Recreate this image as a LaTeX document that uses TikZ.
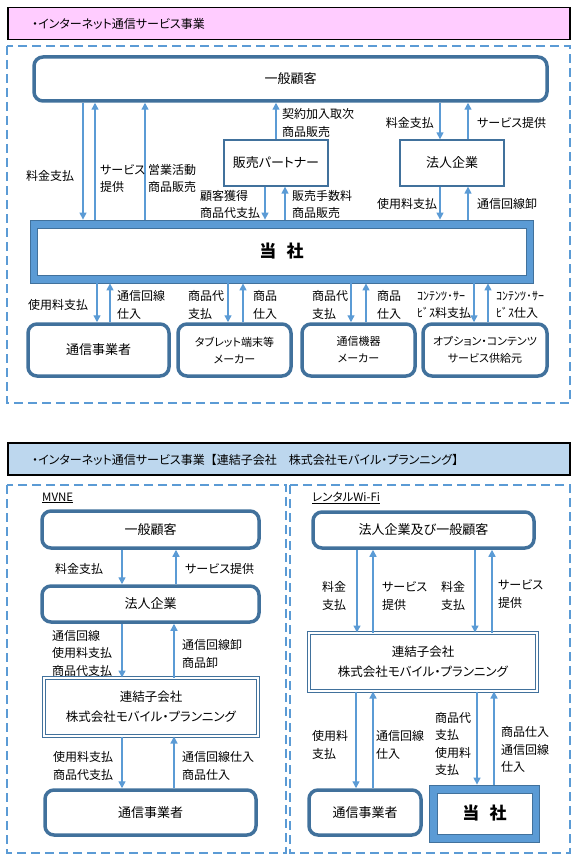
\documentclass[tikz,border=0pt]{standalone}
\usepackage{fontspec}
\setmainfont{Noto Sans CJK JP}[RawFeature={+palt}]
\newfontfamily\jpfull{Noto Sans CJK JP}
\usetikzlibrary{arrows.meta}
\definecolor{arrowblue}{HTML}{5B9BD5}
\definecolor{boxblue}{HTML}{41719C}
\definecolor{hdrpink}{HTML}{FFCCFF}
\definecolor{hdrblue}{HTML}{BDD7EE}
\tikzset{
  rbox/.style={draw=boxblue, line width=3.5pt, rounded corners=9pt, fill=white, inner sep=0pt, align=center, font=\fontsize{13}{18}\selectfont},
  sbox/.style={draw=boxblue, line width=1.3pt, fill=white, inner sep=0pt, align=center, font=\fontsize{13}{18}\selectfont},
  dbox/.style={draw=boxblue, double=white, double distance=2pt, line width=1pt, inner sep=0pt, align=center, font=\fontsize{12.5}{20}\selectfont},
  tsframe/.style={draw=boxblue, line width=0.8pt, fill=arrowblue, inner sep=0pt},
  tsinner/.style={draw=boxblue, line width=0.8pt, fill=white, inner sep=0pt, font=\bfseries\fontsize{17}{20}\selectfont},
  arr/.style={color=arrowblue, line width=1.4pt, -{Triangle[length=7pt,width=7pt]}},
  lbl/.style={inner sep=0pt, anchor=west, align=left, font=\fontsize{12}{17.5}\selectfont},
  hdr/.style={draw=black, line width=1.8pt, inner sep=0pt},
  hdrtext/.style={inner sep=0pt, anchor=west, font=\fontsize{12}{14}\selectfont},
  dashframe/.style={draw=arrowblue, line width=1.3pt, dash pattern=on 9pt off 5pt},
}
\begin{document}
\begin{tikzpicture}[x=1pt, y=-1pt]
\useasboundingbox (0,0) rectangle (578,861);

% ---------------- top section ----------------
\node[hdr, fill=hdrpink, minimum width=562, minimum height=32] (h1) at (289,23.5) {};
\node[hdrtext] (h1t) at (32,23.5) {・インターネット通信サービス事業};
\draw[dashframe] (7,46) rectangle (570,403);

\node[rbox, minimum width=513, minimum height=44] (gk) at (290.5,79) {一般顧客};
\node[sbox, minimum width=104, minimum height=46] (hp) at (276,163) {販売パートナー};
\node[sbox, minimum width=104, minimum height=46] (hj) at (452,163) {法人企業};
\node[tsframe, minimum width=503, minimum height=63] (ts) at (281.5,251.5) {};
\node[tsinner, minimum width=489, minimum height=47] (tsin) at (281.5,251.5) {当\hspace{0.6em}社};

\node[rbox, minimum width=141, minimum height=52] (b1) at (98.5,350) {通信事業者};
\node[rbox, minimum width=113, minimum height=52, font=\fontsize{11}{17}\selectfont] (b2) at (234.5,350) {タブレット端末等\\メーカー};
\node[rbox, minimum width=113, minimum height=52, font=\fontsize{11}{17}\selectfont] (b3) at (358.5,350) {通信機器\\メーカー};
\node[rbox, minimum width=124, minimum height=52, font=\fontsize{11}{17}\selectfont] (b4) at (485,350) {オプション・コンテンツ\\サービス供給元};

% arrows between 一般顧客 and 当社
\draw[arr] (gk.south -| 83,0) -- (ts.north -| 83,0);
\draw[arr] (ts.north -| 95,0) -- (gk.south -| 95,0);
\draw[arr] (ts.north -| 145,0) -- (gk.south -| 145,0);
\draw[arr] (hp.north) -- (gk.south -| hp.north);
\draw[arr] (hp.south -| 265,0) -- (ts.north -| 265,0);
\draw[arr] (ts.north -| 285,0) -- (hp.south -| 285,0);
\draw[arr] (gk.south -| 440,0) -- (hj.north -| 440,0);
\draw[arr] (hj.north -| 468,0) -- (gk.south -| 468,0);
\draw[arr] (hj.south -| 440,0) -- (ts.north -| 440,0);
\draw[arr] (ts.north -| 468,0) -- (hj.south -| 468,0);

% arrows below 当社
\draw[arr] (ts.south -| 97,0) -- (b1.north -| 97,0);
\draw[arr] (b1.north -| 110,0) -- (ts.south -| 110,0);
\draw[arr] (ts.south -| 228,0) -- (b2.north -| 228,0);
\draw[arr] (b2.north -| 243,0) -- (ts.south -| 243,0);
\draw[arr] (ts.south -| 351,0) -- (b3.north -| 351,0);
\draw[arr] (b3.north -| 366,0) -- (ts.south -| 366,0);
\draw[arr] (ts.south -| 474,0) -- (b4.north -| 474,0);
\draw[arr] (b4.north -| 488,0) -- (ts.south -| 488,0);

% labels top
\node[lbl] (l1) at (26,176) {料金支払};
\node[lbl] (l2) at (100,178.5) {サービス\\提供};
\node[lbl] (l3) at (148,178.5) {営業活動\\商品販売};
\node[lbl] (l4) at (282,123) {契約加入取次\\商品販売};
\node[lbl, anchor=east] (l5) at (434,123) {料金支払};
\node[lbl] (l6) at (477,123) {サービス提供};
\node[lbl] (l7) at (200,204.5) {顧客獲得\\商品代支払};
\node[lbl] (l8) at (292,204.5) {販売手数料\\商品販売};
\node[lbl] (l9) at (377,204) {使用料支払};
\node[lbl] (l10) at (477,204) {通信回線卸};

\node[lbl] (l11) at (28,305) {使用料支払};
\node[lbl] (l12) at (117,305) {通信回線\\仕入};
\node[lbl] (l13) at (188,305) {商品代\\支払};
\node[lbl] (l14) at (253,305) {商品\\仕入};
\node[lbl] (l15) at (312,305) {商品代\\支払};
\node[lbl] (l16) at (377,305) {商品\\仕入};
\node[lbl] (l17) at (417,305) {ｺﾝﾃﾝﾂ･ｻｰ\\ﾋﾞｽ料支払};
\node[lbl] (l18) at (496,305) {ｺﾝﾃﾝﾂ･ｻｰ\\ﾋﾞｽ仕入};

% ---------------- bottom section ----------------
\node[hdr, fill=hdrblue, minimum width=562, minimum height=32] (h2) at (289,459) {};
\node[hdrtext] (h2t) at (32,460) {・インターネット通信サービス事業{\jpfull 【}連結子会社{\jpfull 　}株式会社モバイル・プランニング{\jpfull 】}};
\draw[dashframe] (7,485) rectangle (286,853);
\draw[dashframe] (290,485) rectangle (570,853);

% left panel: MVNE
\node[lbl, font=\fontsize{11.5}{14}\selectfont] (mv) at (42,498) {\underline{MVNE}};
\node[rbox, minimum width=217, minimum height=37] (mg) at (150.5,529.5) {一般顧客};
\node[rbox, minimum width=217, minimum height=36] (mh) at (150.5,604) {法人企業};
\node[dbox, minimum width=214, minimum height=58] (mr) at (151,707) {連結子会社\\株式会社モバイル・プランニング};
\node[rbox, minimum width=211, minimum height=45] (mt) at (150.5,812.5) {通信事業者};

\draw[arr] (mg.south -| 122,0) -- (mh.north -| 122,0);
\draw[arr] (mh.north -| 176,0) -- (mg.south -| 176,0);
\draw[arr] (mh.south -| 122,0) -- (mr.north -| 122,0);
\draw[arr] (mr.north -| 174,0) -- (mh.south -| 174,0);
\draw[arr] (mr.south -| 122,0) -- (mt.north -| 122,0);
\draw[arr] (mt.north -| 174,0) -- (mr.south -| 174,0);

\node[lbl] (m1) at (55,569) {料金支払};
\node[lbl] (m2) at (185,569) {サービス提供};
\node[lbl] (m3) at (52,653) {通信回線\\使用料支払\\商品代支払};
\node[lbl] (m4) at (182,654) {通信回線卸\\商品卸};
\node[lbl] (m5) at (53,766) {使用料支払\\商品代支払};
\node[lbl] (m6) at (182,766) {通信回線仕入\\商品仕入};

% right panel: rental Wi-Fi
\node[lbl, font=\fontsize{11.5}{14}\selectfont] (rw) at (312,498) {\underline{レンタルWi-Fi}};
\node[rbox, minimum width=221, minimum height=36] (rg) at (423.5,530) {法人企業及び一般顧客};
\node[dbox, minimum width=228, minimum height=58] (rr) at (423,662) {連結子会社\\株式会社モバイル・プランニング};
\node[rbox, minimum width=112, minimum height=45] (rt) at (365,812.5) {通信事業者};
\node[tsframe, minimum width=110, minimum height=57] (rs) at (484,813.5) {};
\node[tsinner, minimum width=95, minimum height=41] (rsin) at (484.5,813.5) {当\hspace{0.6em}社};

\draw[arr] (rg.south -| 357,0) -- (rr.north -| 357,0);
\draw[arr] (rr.north -| 373,0) -- (rg.south -| 373,0);
\draw[arr] (rg.south -| 475,0) -- (rr.north -| 475,0);
\draw[arr] (rr.north -| 492,0) -- (rg.south -| 492,0);
\draw[arr] (rr.south -| 356,0) -- (rt.north -| 356,0);
\draw[arr] (rt.north -| 373,0) -- (rr.south -| 373,0);
\draw[arr] (rr.south -| 477,0) -- (rs.north -| 477,0);
\draw[arr] (rs.north -| 494,0) -- (rr.south -| 494,0);

\node[lbl] (r1) at (322,596) {料金\\支払};
\node[lbl] (r2) at (382,596) {サービス\\提供};
\node[lbl] (r3) at (441,596) {料金\\支払};
\node[lbl] (r4) at (498,594) {サービス\\提供};
\node[lbl] (r5) at (312,745) {使用料\\支払};
\node[lbl] (r6) at (376,745) {通信回線\\仕入};
\node[lbl] (r7) at (435,744) {商品代\\支払\\使用料\\支払};
\node[lbl] (r8) at (501,749.5) {商品仕入\\通信回線\\仕入};
\end{tikzpicture}
\end{document}
